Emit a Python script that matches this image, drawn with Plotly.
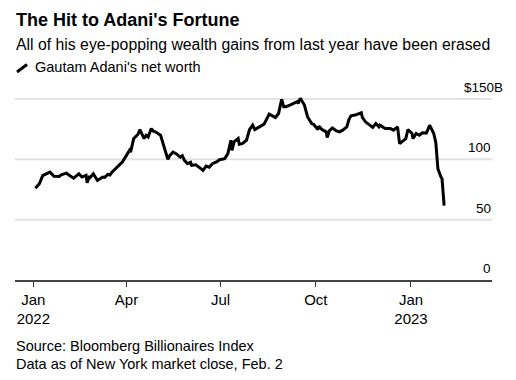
import plotly.graph_objects as go

dates = [
    "2022-01-03", "2022-01-07", "2022-01-10", "2022-01-17", "2022-01-21", "2022-01-26",
    "2022-01-28", "2022-02-02", "2022-02-04", "2022-02-09", "2022-02-14", "2022-02-17",
    "2022-02-21", "2022-02-22", "2022-02-24", "2022-02-25", "2022-02-28", "2022-03-04",
    "2022-03-09", "2022-03-11", "2022-03-14", "2022-03-16", "2022-03-18", "2022-03-23",
    "2022-03-28", "2022-04-01", "2022-04-04", "2022-04-05", "2022-04-08", "2022-04-12",
    "2022-04-14", "2022-04-18", "2022-04-20", "2022-04-22", "2022-04-25", "2022-04-27",
    "2022-04-29", "2022-05-04", "2022-05-06", "2022-05-09", "2022-05-11", "2022-05-13",
    "2022-05-16", "2022-05-19", "2022-05-23", "2022-05-25", "2022-05-27", "2022-05-30",
    "2022-06-02", "2022-06-03", "2022-06-07", "2022-06-10", "2022-06-14", "2022-06-17",
    "2022-06-20", "2022-06-23", "2022-06-27", "2022-06-30", "2022-07-05", "2022-07-08",
    "2022-07-11", "2022-07-12", "2022-07-14", "2022-07-18", "2022-07-19", "2022-07-22",
    "2022-07-26", "2022-07-29", "2022-08-01", "2022-08-03", "2022-08-08", "2022-08-12",
    "2022-08-17", "2022-08-19", "2022-08-23", "2022-08-26", "2022-08-29", "2022-08-31",
    "2022-09-02", "2022-09-06", "2022-09-09", "2022-09-13", "2022-09-14", "2022-09-16",
    "2022-09-20", "2022-09-23", "2022-09-27", "2022-09-29", "2022-10-03", "2022-10-04",
    "2022-10-07", "2022-10-11", "2022-10-12", "2022-10-14", "2022-10-17", "2022-10-21",
    "2022-10-24", "2022-10-27", "2022-10-31", "2022-11-02", "2022-11-04", "2022-11-08",
    "2022-11-14", "2022-11-15", "2022-11-18", "2022-11-22", "2022-11-25", "2022-11-28",
    "2022-12-01", "2022-12-02", "2022-12-05", "2022-12-07", "2022-12-12", "2022-12-15",
    "2022-12-19", "2022-12-21", "2022-12-27", "2022-12-29", "2023-01-02", "2023-01-03",
    "2023-01-06", "2023-01-09", "2023-01-12", "2023-01-16", "2023-01-19", "2023-01-23",
    "2023-01-25", "2023-01-27", "2023-01-30", "2023-01-31", "2023-02-01", "2023-02-02",
]

net_worth = [
    76.0, 80.0, 86.5, 89.4, 86.0, 85.8,
    87.2, 88.6, 87.2, 84.4, 88.0, 85.3,
    86.7, 80.6, 85.3, 85.0, 88.0, 82.5,
    85.3, 85.0, 87.5, 87.0, 89.4, 93.6,
    97.8, 103.3, 107.5, 106.0, 117.2, 120.6,
    124.7, 117.2, 120.0, 118.5, 125.5, 123.3,
    122.8, 120.0, 114.4, 106.0, 100.0, 103.3,
    106.0, 104.7, 101.9, 103.0, 99.2, 96.4,
    97.5, 95.0, 95.5, 93.6, 90.8, 94.4,
    93.5, 96.4, 97.8, 99.7, 100.6, 104.7,
    115.8, 107.5, 114.4, 117.2, 112.5, 113.0,
    115.8, 124.7, 128.3, 124.7, 126.9, 129.2,
    137.5, 136.7, 134.7, 138.0, 149.7, 143.6,
    143.6, 145.0, 146.4, 147.8, 146.4, 150.6,
    145.0, 135.3, 129.7, 128.9, 124.7, 127.5,
    124.7, 122.8, 118.1, 123.6, 126.0, 123.5,
    122.8, 124.2, 126.9, 133.0, 136.1, 136.7,
    138.6, 134.7, 131.1, 128.3, 126.4, 129.7,
    126.9, 128.3, 126.5, 125.6, 125.6, 124.2,
    126.9, 113.0, 117.2, 124.7, 121.4, 117.2,
    121.4, 120.0, 122.0, 121.9, 128.3, 121.4,
    113.9, 92.2, 85.3, 83.9, 73.0, 61.7,
]

x_tick_vals = ["2022-01-01", "2022-04-01", "2022-07-01", "2022-10-01", "2023-01-01"]
x_tick_text = ["Jan<br>2022", "Apr", "Jul", "Oct", "Jan<br>2023"]
y_grid_vals = [50, 100, 150]
y_label_vals = [0, 50, 100, 150]
y_label_text = ["0", "50", "100", "$150B"]

title = "The Hit to Adani's Fortune"
subtitle = "All of his eye-popping wealth gains from last year have been erased"
legend_text = "Gautam Adani's net worth"
footer = ["Source: Bloomberg Billionaires Index", "Data as of New York market close, Feb. 2"]

# page body has an 8px margin; figure is sized to fit the 516x380 window
OFF = 8
W, H = 516 - 2 * OFF, 380 - 2 * OFF
ML, MR, MT, MB = 7, 16, 82, 92
PW, PH = W - ML - MR, H - MT - MB
FONT = "Liberation Sans, Arial, sans-serif"
TXT = "#000000"


def px(x):
    return (x - OFF - ML) / PW


def py(y):
    return (H - MB - (y - OFF)) / PH


fig = go.Figure()
fig.add_trace(go.Scatter(
    x=dates, y=net_worth, mode="lines",
    line=dict(color="#000000", width=3),
    showlegend=False, hoverinfo="skip",
))

shapes = []
for v in y_grid_vals:
    shapes.append(dict(type="line", xref="paper", x0=0, x1=1, yref="y", y0=v, y1=v,
                       line=dict(color="#e3e3e3", width=2), layer="below"))
# legend icon (slash)
shapes.append(dict(type="line", xref="paper", yref="paper",
                   x0=px(17), y0=py(72), x1=px(27), y1=py(64.5),
                   line=dict(color="#000000", width=3)))

annotations = [
    dict(text="<b>" + title + "</b>", x=px(14), y=py(20), xref="paper", yref="paper",
         xanchor="left", yanchor="middle", showarrow=False,
         font=dict(family=FONT, size=18, color=TXT)),
    dict(text=subtitle, x=px(14), y=py(44.5), xref="paper", yref="paper",
         xanchor="left", yanchor="middle", showarrow=False,
         font=dict(family=FONT, size=15.8, color=TXT)),
    dict(text=legend_text, x=px(33), y=py(67.5), xref="paper", yref="paper",
         xanchor="left", yanchor="middle", showarrow=False,
         font=dict(family=FONT, size=14.5, color=TXT)),
    dict(text=footer[0], x=px(14), y=py(346), xref="paper", yref="paper",
         xanchor="left", yanchor="middle", showarrow=False,
         font=dict(family=FONT, size=14.5, color=TXT)),
    dict(text=footer[1], x=px(14), y=py(364), xref="paper", yref="paper",
         xanchor="left", yanchor="middle", showarrow=False,
         font=dict(family=FONT, size=14.5, color=TXT)),
]
for v, t in zip(y_label_vals, y_label_text):
    annotations.append(dict(text=t, x=1, y=v, xref="paper", yref="y",
                            xanchor="right", yanchor="bottom", yshift=2,
                            xshift=(13 if t.endswith("B") else 1), showarrow=False,
                            font=dict(family=FONT, size=13.5, color=TXT)))

fig.update_layout(
    width=W, height=H,
    margin=dict(l=ML, r=MR, t=MT, b=MB),
    paper_bgcolor="#ffffff", plot_bgcolor="#ffffff",
    font=dict(family=FONT, size=14, color=TXT),
    shapes=shapes, annotations=annotations,
    showlegend=False,
    xaxis=dict(
        type="date", range=["2021-12-14 07:00", "2023-03-20 07:00"],
        tickvals=x_tick_vals, ticktext=x_tick_text,
        ticks="outside", ticklen=5, tickwidth=1, tickcolor="#333333",
        showline=True, linecolor="#444444", linewidth=1.5,
        showgrid=False, zeroline=False, fixedrange=True,
        tickfont=dict(family=FONT, size=15, color=TXT),
    ),
    yaxis=dict(
        range=[0, 157.46], showgrid=False, zeroline=False,
        showticklabels=False, ticks="", fixedrange=True,
    ),
)

fig.write_html("out.html")
